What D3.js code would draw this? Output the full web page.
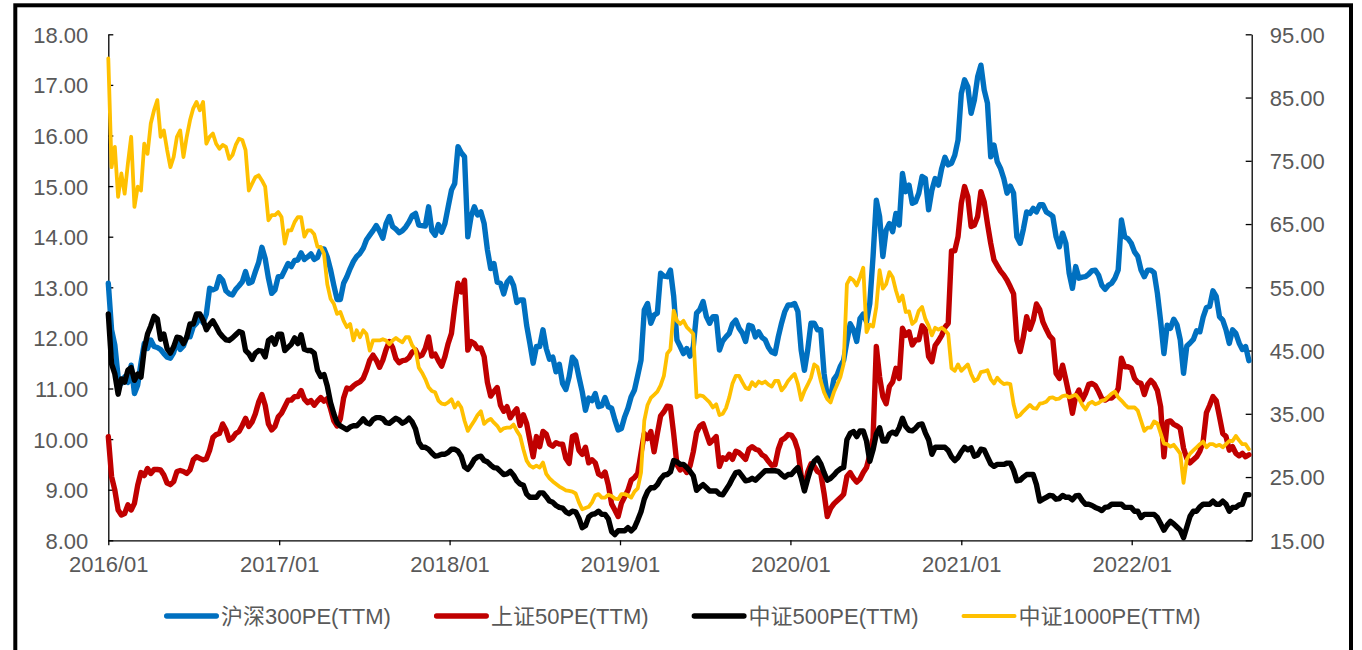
<!DOCTYPE html>
<html>
<head>
<meta charset="utf-8">
<script src="https://cdn.jsdelivr.net/npm/d3@7"></script>
<style>
  body { margin: 0; background: #fff; }
  svg { display: block; }
  text { font-family: "Liberation Sans", "Noto Sans CJK SC", sans-serif; }
</style>
</head>
<body>
<svg id="chart" width="1362" height="650"></svg>
<script>
// Weekly (Friday) PE(TTM) readings, 2016/01 – 2022/09
const hs300 = [
  13.08,12.16,11.86,11.23,11.10,11.23,11.12,11.46,10.90,11.07,11.50,11.89,11.79,11.96,11.83,11.81,11.77,11.69,11.62,11.60,11.71,11.94,11.77,11.84,12.02,12.02,12.22,12.29,12.42,12.30,12.47,12.98,12.95,12.98,13.21,13.14,12.93,12.87,12.85,12.96,13.03,13.11,13.31,13.08,
  13.11,13.31,13.49,13.79,13.57,13.18,12.88,12.95,13.21,13.21,13.34,13.47,13.41,13.53,13.54,13.68,13.55,13.60,13.66,13.55,13.59,13.76,13.76,13.60,13.35,13.04,12.76,12.76,13.08,13.21,13.37,13.51,13.61,13.67,13.77,13.94,14.03,14.12,14.22,14.11,13.97,14.26,14.40,14.20,
  14.15,14.08,14.12,14.19,14.29,14.42,14.46,14.23,14.22,14.21,14.59,14.12,14.03,14.24,14.09,14.26,14.59,14.92,15.05,15.78,15.66,15.58,14.00,14.40,14.59,14.43,14.49,14.26,13.74,13.37,13.47,13.10,13.08,12.87,13.10,13.18,13.04,12.70,12.75,12.75,12.25,11.89,11.50,11.83,
  11.83,12.16,11.79,11.58,11.62,11.33,11.48,11.10,10.98,11.23,11.62,11.54,11.23,10.94,10.57,10.81,10.76,10.90,10.64,10.66,10.82,10.64,10.61,10.38,10.18,10.21,10.44,10.61,10.84,10.97,11.26,11.56,12.55,12.68,12.29,12.45,12.49,13.28,13.22,13.21,13.34,12.82,11.96,11.83,
  11.69,11.79,11.64,11.83,12.49,12.56,12.72,12.42,12.29,12.42,12.42,11.76,11.94,12.02,12.09,12.28,12.35,12.19,12.10,11.93,12.25,12.23,12.02,12.12,12.01,11.96,11.81,11.72,11.69,12.02,12.29,12.52,12.65,12.65,12.68,12.52,11.76,11.36,11.76,12.29,12.29,12.16,12.16,11.30,10.84,
  10.84,11.18,11.27,11.44,11.56,11.93,12.28,12.16,11.93,12.38,12.47,12.32,12.68,13.61,14.72,14.40,13.61,14.13,14.26,14.10,14.46,14.23,15.25,14.89,15.02,14.66,14.69,14.86,15.19,15.15,14.53,14.92,15.15,15.02,15.35,15.57,15.42,15.45,15.61,15.91,16.83,17.10,16.96,16.44,
  16.70,17.16,17.39,16.90,16.64,15.58,15.81,15.48,15.35,15.15,14.86,15.00,14.86,14.00,13.87,14.15,14.49,14.46,14.56,14.49,14.63,14.63,14.49,14.45,14.40,14.00,13.80,14.07,13.87,13.28,12.98,13.41,13.18,13.20,13.21,13.26,13.33,13.34,13.24,13.04,12.96,13.04,13.08,13.18,
  13.34,14.33,14.00,13.96,13.87,13.70,13.61,13.34,13.21,13.34,13.34,13.29,12.88,12.33,11.69,12.25,12.19,12.37,12.26,11.96,11.30,11.84,11.90,11.97,12.14,12.12,12.41,12.60,12.62,12.93,12.82,12.42,12.35,12.16,11.89,12.16,12.09,11.90,11.77,11.83,11.55
];

const sz50 = [
  10.05,9.26,8.99,8.60,8.50,8.53,8.70,8.60,8.73,9.09,9.34,9.28,9.42,9.32,9.40,9.40,9.39,9.29,9.13,9.10,9.16,9.36,9.38,9.36,9.32,9.39,9.59,9.65,9.62,9.59,9.61,9.78,10.03,10.09,10.11,10.30,10.18,9.98,10.02,10.11,10.15,10.27,10.41,10.25,
  10.34,10.50,10.73,10.88,10.67,10.30,10.18,10.25,10.44,10.51,10.64,10.77,10.77,10.84,10.84,10.96,10.79,10.72,10.76,10.67,10.75,10.82,10.75,10.80,10.60,10.36,10.26,10.40,10.81,11.01,10.99,11.05,11.10,11.13,11.20,11.36,11.56,11.66,11.56,11.42,11.56,11.77,11.93,11.81,
  11.59,11.51,11.55,11.56,11.61,11.72,11.76,11.63,11.66,11.79,12.02,11.64,11.68,11.55,11.44,11.63,11.89,12.09,12.62,13.08,12.91,13.14,11.76,11.93,11.89,11.79,11.80,11.63,11.12,10.85,10.94,11.02,10.67,10.55,10.64,10.42,10.52,10.60,10.27,10.48,10.31,9.98,9.65,10.05,
  9.85,10.15,10.10,9.90,9.86,9.93,9.90,9.90,9.62,9.52,10.05,10.08,9.78,9.70,9.84,9.53,9.59,9.53,9.31,9.27,9.35,9.09,8.72,8.60,8.47,8.73,8.86,8.99,9.19,9.24,9.32,9.72,10.11,10.01,10.15,9.75,10.11,10.46,10.54,10.65,10.64,10.10,9.49,9.39,
  9.44,9.34,9.47,9.75,10.13,10.26,10.30,10.11,9.92,9.98,10.05,9.46,9.63,9.60,9.70,9.60,9.76,9.73,9.67,9.60,9.80,9.85,9.80,9.78,9.69,9.65,9.56,9.48,9.49,9.80,9.98,10.02,10.09,10.08,9.98,9.78,9.29,9.03,9.35,9.51,9.46,9.36,9.32,8.93,8.47,
  8.63,8.72,8.78,8.84,8.91,9.26,9.34,9.23,9.15,9.21,9.34,9.44,9.68,10.02,11.83,11.23,10.84,10.70,11.04,11.13,11.40,11.20,12.19,12.05,12.12,11.86,11.96,11.96,12.24,12.16,11.63,11.53,11.85,11.94,12.05,12.21,12.29,13.72,13.72,14.00,14.66,14.99,14.79,14.20,
  14.23,14.40,14.89,14.69,14.26,13.87,13.54,13.43,13.32,13.24,13.14,13.01,12.87,11.96,11.73,12.02,12.42,12.17,12.35,12.67,12.56,12.31,12.17,12.04,11.97,11.30,11.20,11.46,11.17,10.87,10.51,10.84,10.97,10.77,10.90,11.08,11.10,11.06,10.94,10.80,10.77,10.81,10.81,10.87,
  11.00,11.60,11.43,11.43,11.40,11.20,11.12,11.10,10.88,11.08,11.16,11.09,10.96,10.64,9.65,10.34,10.36,10.29,10.26,10.21,9.82,9.62,9.53,9.59,9.65,9.76,9.95,10.52,10.67,10.84,10.76,10.44,10.11,10.05,9.78,9.85,9.72,9.67,9.72,9.65,9.69
];

const zz500 = [
  50.8,42.9,41.3,38.1,40.5,40.0,41.9,42.3,40.3,41.3,40.8,45.2,47.6,48.9,50.4,50.0,46.8,47.6,45.3,44.6,45.6,47.1,47.0,46.1,47.1,49.2,49.2,50.8,50.8,49.8,48.3,49.1,49.7,48.8,47.8,47.2,46.7,46.6,47.0,47.5,48.0,47.8,45.0,44.5,
  43.6,44.6,45.0,44.9,44.0,46.6,47.0,46.0,47.6,47.6,45.0,45.5,46.0,47.0,46.1,47.5,45.2,45.0,45.0,44.6,41.9,40.9,41.2,39.4,36.8,35.0,33.6,33.1,32.8,32.5,32.9,33.1,33.1,33.6,34.2,33.6,33.4,34.1,34.4,34.4,34.2,33.6,33.5,33.9,
  34.3,34.0,33.5,33.8,34.3,33.7,32.6,30.5,29.7,29.7,29.4,28.8,28.3,28.4,28.6,28.6,28.9,29.4,29.4,29.1,28.3,26.6,26.2,26.9,27.8,28.2,28.3,27.6,27.4,26.9,26.5,26.4,25.9,25.4,25.5,25.9,25.3,24.4,23.9,23.7,22.3,21.8,21.8,21.8,
  22.5,22.5,21.9,21.2,21.0,20.5,20.2,20.1,19.5,19.2,19.6,19.5,18.5,17.0,17.3,18.7,19.1,19.2,19.6,19.1,19.1,18.4,16.4,15.9,16.5,16.5,16.5,17.0,16.5,17.0,18.2,19.5,21.5,22.7,23.3,23.3,23.8,24.7,25.3,25.4,25.8,27.6,27.4,27.0,
  27.0,26.5,25.9,25.2,22.9,23.4,23.8,23.3,22.8,22.8,22.8,22.3,22.2,23.0,23.8,24.8,25.7,25.8,25.1,24.4,24.5,24.8,24.5,25.0,25.5,26.0,26.0,26.0,26.0,25.9,25.4,25.0,25.4,25.4,26.0,26.5,24.9,22.8,24.7,26.4,27.5,28.0,27.1,25.7,24.5,
  24.8,25.3,25.9,26.3,26.5,30.9,31.9,32.2,31.4,32.3,32.3,30.7,27.5,29.3,31.8,32.8,30.7,30.7,31.8,32.1,31.8,32.8,34.3,33.0,32.4,32.3,32.7,33.3,33.4,32.0,30.9,28.6,29.7,29.7,29.7,29.7,29.2,28.2,27.6,28.1,29.0,29.7,29.3,29.6,
  28.3,28.5,29.4,29.3,28.2,27.1,26.7,27.0,27.0,27.0,27.2,27.2,26.1,24.4,24.5,25.0,25.4,25.4,25.4,23.8,21.2,21.5,21.8,22.1,22.0,21.5,21.6,22.1,21.8,21.8,21.4,22.0,22.1,21.3,20.7,20.7,20.5,20.2,20.0,19.7,20.2,20.3,20.7,20.7,
  20.7,20.7,20.2,20.2,20.2,19.6,19.6,18.6,19.1,19.1,19.1,19.1,18.6,17.6,16.6,17.4,18.0,17.6,17.1,16.6,15.4,17.1,18.8,19.6,19.6,20.3,20.7,20.7,20.7,21.2,20.7,20.7,21.2,20.7,19.6,20.2,20.2,20.6,20.7,22.2,22.2
];

const zz1000 = [
  91.2,74.0,77.2,69.3,73.0,69.8,74.6,78.8,67.7,70.9,70.3,77.7,76.1,80.9,83.0,84.6,78.8,79.8,76.7,74.0,75.6,78.8,79.8,75.6,78.8,81.4,83.3,84.3,83.0,84.3,77.7,78.8,79.3,77.7,76.9,77.5,77.2,75.3,75.9,77.5,78.5,78.3,76.7,70.3,
  71.4,72.4,72.7,71.9,70.9,65.6,66.4,66.4,66.9,66.1,61.9,64.0,64.0,65.3,66.1,66.1,63.0,64.0,64.0,63.4,61.4,61.4,60.3,55.5,53.2,52.4,50.8,51.1,49.7,48.7,49.2,46.6,48.2,47.1,48.2,47.6,45.0,46.6,46.6,46.6,46.8,46.6,46.0,46.6,
  47.0,46.6,46.3,47.1,47.1,45.8,45.1,42.3,41.5,40.5,39.2,38.6,38.4,37.1,36.6,36.5,36.8,37.3,36.0,36.8,36.0,33.9,32.3,33.1,33.9,34.8,35.4,33.4,33.9,34.2,33.6,33.1,32.3,32.7,32.8,32.8,33.3,32.3,31.5,29.4,27.6,26.8,26.5,26.8,
  26.5,27.3,25.5,24.8,24.3,23.9,23.5,23.2,22.9,22.8,22.7,22.4,21.0,19.9,20.1,20.3,21.0,22.1,22.3,21.75,21.75,22.2,22.0,21.6,21.5,22.3,22.3,22.1,21.75,22.7,23.2,25.7,33.9,36.4,37.5,38.0,38.5,39.5,41.0,44.5,45.2,51.3,49.7,49.2,
  49.7,48.7,48.2,47.6,37.6,37.9,37.8,37.3,36.8,36.0,36.5,34.8,35.0,35.9,37.6,39.8,41.0,41.0,40.0,39.1,38.9,40.0,39.4,40.1,39.8,40.1,39.6,39.3,40.2,40.2,38.7,39.3,40.2,40.8,41.3,39.7,37.2,38.6,39.6,40.7,42.8,42.4,40.2,38.4,37.3,
  36.8,38.4,39.6,40.8,42.9,55.5,56.5,56.1,55.3,56.6,58.1,47.9,49.1,48.8,51.9,57.7,54.8,55.5,57.4,56.6,54.5,52.8,53.7,51.1,51.2,49.2,49.7,51.3,51.9,50.0,48.9,47.4,48.6,48.3,48.6,48.2,47.6,42.2,41.8,42.8,41.8,42.3,42.8,41.3,
  40.2,40.5,41.6,41.7,41.9,40.5,39.8,40.7,40.1,39.7,39.8,39.7,36.5,34.5,34.8,35.4,35.9,36.4,35.9,35.8,36.6,36.7,36.9,37.5,37.6,37.3,37.4,37.8,37.9,37.6,37.8,38.0,37.4,36.4,35.7,36.6,36.9,36.5,36.7,37.1,37.2,37.7,38.2,38.5,
  37.6,37.1,36.5,36.0,36.0,36.0,35.5,33.9,32.3,32.8,32.8,33.8,33.5,31.9,30.3,30.2,29.8,30.1,29.4,28.7,24.1,27.8,28.7,29.2,29.7,30.2,30.6,29.7,30.2,30.2,29.9,30.1,29.7,30.2,30.7,30.7,31.5,30.8,30.2,30.2,29.4
];

// Weekly calendar (Fridays) for the readings above
const weekEnds = d3.timeFriday.range(new Date(2016, 0, 1), new Date(2022, 8, 10));

const leftTicks = [8, 9, 10, 11, 12, 13, 14, 15, 16, 17, 18];
const rightTicks = [15, 25, 35, 45, 55, 65, 75, 85, 95];
const yearTicks = ["2016-01-01", "2017-01-01", "2018-01-01", "2019-01-01", "2020-01-01", "2021-01-01", "2022-01-01"];

const seriesNames = ["沪深300PE(TTM)", "上证50PE(TTM)", "中证500PE(TTM)", "中证1000PE(TTM)"];
const seriesColors = ["#0070C0", "#C00000", "#000000", "#FFC000"];

const svg = d3.select("#chart");
const plot = { left: 108.3, right: 1251.7, top: 34.3, bottom: 540.3 };

// outer frame
svg.append("rect")
  .attr("x", 15.3).attr("y", 5.3)
  .attr("width", 1335.7).attr("height", 720)
  .attr("fill", "#fff").attr("stroke", "#000").attr("stroke-width", 4);

const x = d3.scaleTime()
  .domain([new Date(2016, 0, 1), new Date(2022, 8, 15)])
  .range([plot.left, plot.right]);
const yL = d3.scaleLinear().domain([8, 18]).range([plot.bottom, plot.top]);
const yR = d3.scaleLinear().domain([15, 95]).range([plot.bottom, plot.top]);

const labelColor = "#595959";
const fontSize = 22;

function styleAxis(g, dy) {
  g.selectAll("path.domain").attr("stroke", "#000").attr("stroke-width", 1.3);
  g.selectAll(".tick line").attr("stroke", "#000").attr("stroke-width", 1.3);
  g.selectAll(".tick text")
    .attr("fill", labelColor)
    .attr("dy", dy)
    .style("font-size", fontSize + "px")
    .style("font-family", '"Liberation Sans", "Noto Sans CJK SC", sans-serif');
}

// left axis (ticks point into the plot)
svg.append("g")
  .attr("transform", `translate(${plot.left},0)`)
  .call(d3.axisLeft(yL).tickValues(leftTicks).tickSizeInner(-5).tickSizeOuter(0)
    .tickPadding(20).tickFormat(d3.format(".2f")))
  .call(styleAxis, "0.36em");

// right axis
svg.append("g")
  .attr("transform", `translate(${plot.right},0)`)
  .call(d3.axisRight(yR).tickValues(rightTicks).tickSizeInner(-6).tickSizeOuter(0)
    .tickPadding(18).tickFormat(d3.format(".2f")))
  .call(styleAxis, "0.36em");

// bottom axis
svg.append("g")
  .attr("transform", `translate(0,${plot.bottom})`)
  .call(d3.axisBottom(x).tickValues(yearTicks.map(d => new Date(d + "T00:00:00")))
    .tickSizeInner(5).tickSizeOuter(0).tickPadding(11)
    .tickFormat(d3.timeFormat("%Y/%m")))
  .call(styleAxis, "0.72em");

// series lines: primary axis first, secondary axis on top
const seriesData = [
  { values: hs300, scale: yL, width: 5.4 },
  { values: sz50, scale: yL, width: 5.4 },
  { values: zz500, scale: yR, width: 5.4 },
  { values: zz1000, scale: yR, width: 3.8 }
];

seriesData.forEach((s, i) => {
  const line = d3.line()
    .x((d, j) => x(weekEnds[j]))
    .y(d => s.scale(d));
  svg.append("path")
    .datum(s.values)
    .attr("fill", "none")
    .attr("stroke", seriesColors[i])
    .attr("stroke-width", s.width)
    .attr("stroke-linejoin", "round")
    .attr("stroke-linecap", "round")
    .attr("d", line);
});

// legend
const legend = svg.append("g").attr("transform", "translate(0,616)");
let lx = 164;
seriesNames.forEach((name, i) => {
  const w = seriesData[i].width;
  legend.append("line")
    .attr("x1", lx + w / 2).attr("x2", lx + 55 - w / 2)
    .attr("y1", 0).attr("y2", 0)
    .attr("stroke", seriesColors[i]).attr("stroke-width", w)
    .attr("stroke-linecap", "round");
  const t = legend.append("text")
    .attr("x", lx + 57).attr("y", 0).attr("dy", "0.36em")
    .attr("fill", labelColor)
    .style("font-size", fontSize + "px")
    .text(name);
  lx += 57 + t.node().getComputedTextLength() + 43;
});
</script>
</body>
</html>
